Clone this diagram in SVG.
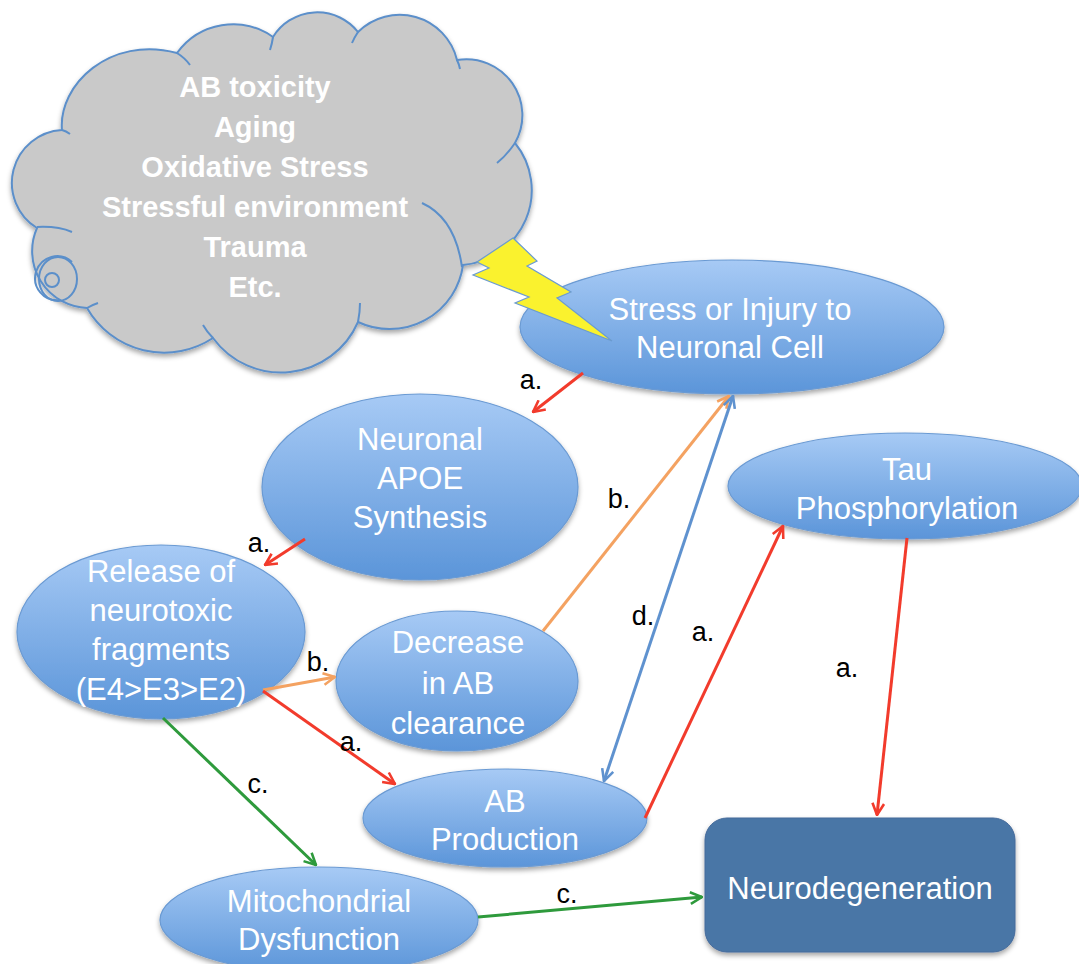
<svg xmlns="http://www.w3.org/2000/svg" width="1079" height="964" viewBox="0 0 1079 964">
<defs>
  <linearGradient id="g" x1="0" y1="0" x2="0" y2="1">
    <stop offset="0" stop-color="#a7caf5"/>
    <stop offset="1" stop-color="#5b95d9"/>
  </linearGradient>
  <filter id="sh" x="-10%" y="-10%" width="120%" height="130%">
    <feDropShadow dx="0" dy="3" stdDeviation="2.5" flood-color="#000" flood-opacity="0.35"/>
  </filter>
  <marker id="arR" viewBox="0 0 12 12" refX="11" refY="6" markerWidth="14" markerHeight="14" markerUnits="userSpaceOnUse" orient="auto">
    <path d="M1,1 L11,6 L1,11" fill="none" stroke="#f23b2c" stroke-width="2.2"/>
  </marker>
  <marker id="arO" viewBox="0 0 12 12" refX="11" refY="6" markerWidth="14" markerHeight="14" markerUnits="userSpaceOnUse" orient="auto">
    <path d="M1,1 L11,6 L1,11" fill="none" stroke="#f4a261" stroke-width="2.2"/>
  </marker>
  <marker id="arB" viewBox="0 0 12 12" refX="11" refY="6" markerWidth="14" markerHeight="14" markerUnits="userSpaceOnUse" orient="auto-start-reverse">
    <path d="M1,1 L11,6 L1,11" fill="none" stroke="#5f92cf" stroke-width="2.2"/>
  </marker>
  <marker id="arG" viewBox="0 0 12 12" refX="11" refY="6" markerWidth="14" markerHeight="14" markerUnits="userSpaceOnUse" orient="auto">
    <path d="M1,1 L11,6 L1,11" fill="none" stroke="#2e9a3c" stroke-width="2.2"/>
  </marker>
</defs>
<style>
  .node { fill: url(#g); stroke: #6a9ad3; stroke-width: 1.2; filter: url(#sh); }
  .nt { font-family: "Liberation Sans", Arial, sans-serif; font-size: 31px; fill: #fff; text-anchor: middle; }
  .ct { font-family: "Liberation Sans", Arial, sans-serif; font-size: 29px; font-weight: bold; fill: #fff; text-anchor: middle; }
  .lb { font-family: "Liberation Sans", Arial, sans-serif; font-size: 27px; fill: #000; text-anchor: middle; }
  .cl { fill: none; stroke: #5b8fca; stroke-width: 2; }
  .r { stroke: #f23b2c; stroke-width: 3; fill: none; marker-end: url(#arR); }
  .o { stroke: #f4a261; stroke-width: 3; fill: none; marker-end: url(#arO); }
  .b { stroke: #5f92cf; stroke-width: 3; fill: none; marker-end: url(#arB); marker-start: url(#arB); }
  .gr { stroke: #2e9a3c; stroke-width: 3; fill: none; marker-end: url(#arG); }
</style>

<g id="cloud">
  <path d="M37,228 A53,53 0 0 1 62,130 C58,85 110,35 177,53 A69,69 0 0 1 273,37 A52,52 0 0 1 358,32 A59,59 0 0 1 457,60 A56,56 0 0 1 515,143 A75,75 0 0 1 463,265 A74,74 0 0 1 358,322 A84,84 0 0 1 213,338 A89,89 0 0 1 87,308 A57,57 0 0 1 37,228 Z" fill="#c9c9c9" stroke="#5b8fca" stroke-width="2" filter="url(#sh)"/>
  <path class="cl" d="M37,227 Q58,226 72,232"/>
  <path class="cl" d="M62,130 Q66,131 70,134"/>
  <path class="cl" d="M177,53 Q185,58 190,65"/>
  <path class="cl" d="M273,37 Q272,44 270,50"/>
  <path class="cl" d="M358,32 Q354,38 352,43"/>
  <path class="cl" d="M457,60 Q459,64 460,69"/>
  <path class="cl" d="M515,143 Q506,156 497,163"/>
  <path class="cl" d="M422,203 Q455,218 462,267"/>
  <path class="cl" d="M358,322 Q360,312 360,303"/>
  <path class="cl" d="M213,338 Q207,332 203,325"/>
  <path class="cl" d="M87,308 Q92,305 98,303"/>
  <circle class="cl" cx="52" cy="280" r="7"/>
  <ellipse class="cl" cx="58" cy="279" rx="19" ry="22"/>
  <path class="cl" d="M60,300 A22,22 0 1 1 72,262"/>
  <text class="ct" x="255" y="97">AB toxicity</text>
  <text class="ct" x="255" y="137">Aging</text>
  <text class="ct" x="255" y="177">Oxidative Stress</text>
  <text class="ct" x="255" y="217">Stressful environment</text>
  <text class="ct" x="255" y="257">Trauma</text>
  <text class="ct" x="255" y="297">Etc.</text>
</g>

<g id="stress">
  <ellipse class="node" cx="732" cy="327" rx="212" ry="67"/>
  <text class="nt" x="730" y="320">Stress or Injury to</text>
  <text class="nt" x="730" y="358">Neuronal Cell</text>
</g>

<g id="bolt">
  <polygon points="513,238 537,261 527,266 571,292 557,298 612,341 515,303 529,297 473,275 489,268 477,262" fill="#faf22e" stroke="#6b9bd0" stroke-width="1.2"/>
</g>

<g id="apoe">
  <ellipse class="node" cx="420" cy="487" rx="158" ry="93"/>
  <text class="nt" x="420" y="450">Neuronal</text>
  <text class="nt" x="420" y="489">APOE</text>
  <text class="nt" x="420" y="528">Synthesis</text>
</g>

<g id="release">
  <ellipse class="node" cx="161" cy="632" rx="144" ry="87"/>
  <text class="nt" x="161" y="582">Release of</text>
  <text class="nt" x="161" y="621">neurotoxic</text>
  <text class="nt" x="161" y="660">fragments</text>
  <text class="nt" x="161" y="700">(E4&gt;E3&gt;E2)</text>
</g>

<g id="decrease">
  <ellipse class="node" cx="457" cy="681" rx="121" ry="70"/>
  <text class="nt" x="458" y="653">Decrease</text>
  <text class="nt" x="458" y="694">in AB</text>
  <text class="nt" x="458" y="734">clearance</text>
</g>

<g id="tau">
  <ellipse class="node" cx="905" cy="486" rx="177" ry="53"/>
  <text class="nt" x="907" y="480">Tau</text>
  <text class="nt" x="907" y="519">Phosphorylation</text>
</g>

<g id="abprod">
  <ellipse class="node" cx="505" cy="818" rx="142" ry="49"/>
  <text class="nt" x="505" y="812">AB</text>
  <text class="nt" x="505" y="850">Production</text>
</g>

<g id="mito">
  <ellipse class="node" cx="319" cy="920" rx="159" ry="53"/>
  <text class="nt" x="319" y="912">Mitochondrial</text>
  <text class="nt" x="319" y="950">Dysfunction</text>
</g>

<g id="neurodeg">
  <rect x="705" y="818" width="310" height="134" rx="22" fill="#4a76a6" stroke="#43699a" stroke-width="1" filter="url(#sh)"/>
  <text class="nt" x="860" y="899">Neurodegeneration</text>
</g>

<g id="connectors">
  <line class="r" x1="583" y1="373" x2="533" y2="412"/>
  <line class="r" x1="305" y1="539" x2="265" y2="565"/>
  <line class="o" x1="263" y1="690" x2="335" y2="677"/>
  <line class="o" x1="543" y1="631" x2="729" y2="396"/>
  <line class="b" x1="733" y1="396" x2="604" y2="781"/>
  <line class="r" x1="263" y1="691" x2="395" y2="784"/>
  <line class="r" x1="645" y1="818" x2="783" y2="526"/>
  <line class="r" x1="907" y1="538" x2="877" y2="815"/>
  <line class="gr" x1="163" y1="718" x2="316" y2="865"/>
  <line class="gr" x1="478" y1="917" x2="702" y2="897"/>
  <text class="lb" x="531" y="389">a.</text>
  <text class="lb" x="259" y="552">a.</text>
  <text class="lb" x="619" y="508">b.</text>
  <text class="lb" x="318" y="671">b.</text>
  <text class="lb" x="643" y="625">d.</text>
  <text class="lb" x="703" y="641">a.</text>
  <text class="lb" x="351" y="751">a.</text>
  <text class="lb" x="847" y="677">a.</text>
  <text class="lb" x="258" y="793">c.</text>
  <text class="lb" x="567" y="903">c.</text>
</g>
</svg>
